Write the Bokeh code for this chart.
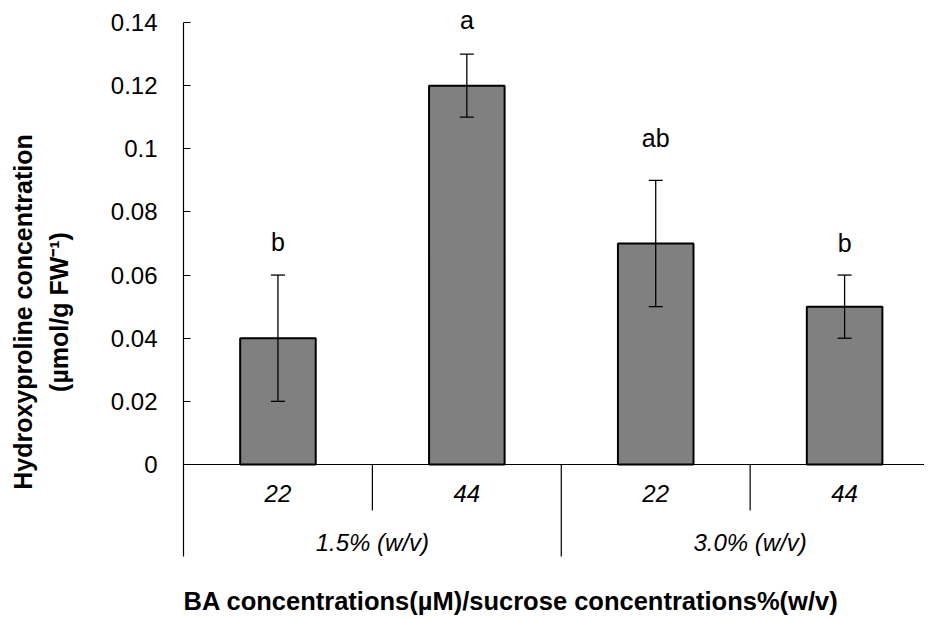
from bokeh.plotting import figure
from bokeh.models import (Range1d, LinearAxis, FixedTicker, NumeralTickFormatter,
                          ColumnDataSource, Whisker, TeeHead, LabelSet, Label, Span)
from bokeh.core.properties import value
from bokeh.embed import file_html
from bokeh.resources import INLINE

# ---- data ----
ba_levels = ["22", "44", "22", "44"]          # BA concentration (µM)
sucrose_groups = ["1.5% (w/v)", "3.0% (w/v)"]  # sucrose concentration
means = [0.04, 0.12, 0.07, 0.05]
errors = [0.02, 0.01, 0.02, 0.01]
letters = ["b", "a", "ab", "b"]
letter_heights = [0.0675, 0.138, 0.1005, 0.0672]
y_ticks = [0, 0.02, 0.04, 0.06, 0.08, 0.1, 0.12, 0.14]

FONT = "Liberation Sans"

n = len(means)
xpos = [i + 0.5 for i in range(n)]
group_x = [1.0, 3.0]
axis_bottom = -0.02914        # lower end of the category boxes
frame_bottom = -0.04783       # room for the x title
y_top = 0.14443
cat_label_y = -0.00919
group_label_y = -0.0247
small_sep_bottom = -0.01457
x_title_y = -0.0432

src = ColumnDataSource(dict(
    x=xpos, top=means,
    upper=[m + e for m, e in zip(means, errors)],
    lower=[m - e for m, e in zip(means, errors)],
    letter=letters, ly=letter_heights, cat=ba_levels,
    cy=[cat_label_y] * n,
))
gsrc = ColumnDataSource(dict(x=group_x, text=sucrose_groups, y=[group_label_y] * len(group_x)))

p = figure(width=924, height=615,
           x_range=Range1d(0, 3.923), y_range=Range1d(frame_bottom, y_top),
           x_axis_type=None, y_axis_type=None,
           output_backend="svg", toolbar_location=None,
           min_border_left=183, min_border_right=0,
           min_border_top=8, min_border_bottom=0)
p.outline_line_color = None
p.background_fill_color = "white"

# main y axis (line limited to the value range + category boxes)
yax = LinearAxis(ticker=FixedTicker(ticks=y_ticks),
                 formatter=NumeralTickFormatter(format="0.[00]"),
                 bounds=(axis_bottom, y_ticks[-1]),
                 axis_line_color="black", axis_line_width=1.2,
                 major_tick_in=7, major_tick_out=0, major_tick_line_width=1.2,
                 minor_tick_line_color=None,
                 major_label_standoff=26,
                 major_label_text_font=FONT, major_label_text_font_size="24px",
                 major_label_text_color="black",
                 axis_label="(µmol/g FW⁻¹)",
                 axis_label_text_font=FONT, axis_label_text_font_size="25px",
                 axis_label_text_font_style="bold", axis_label_text_color="black",
                 axis_label_standoff=35)
p.add_layout(yax, "left")

# outer line of the y title
yax2 = LinearAxis(ticker=FixedTicker(ticks=[]),
                  axis_line_color=None, major_tick_in=0, major_tick_out=0,
                  minor_tick_line_color=None,
                  axis_label="Hydroxyproline concentration",
                  axis_label_text_font=FONT, axis_label_text_font_size="25px",
                  axis_label_text_font_style="bold", axis_label_text_color="black",
                  axis_label_standoff=5)
p.add_layout(yax2, "left")

# bars
p.vbar(x="x", top="top", bottom=0, width=0.40, source=src,
       fill_color="#808080", line_color="black", line_width=2)

# error bars (drawn above the bars)
p.add_layout(Whisker(source=src, base="x", upper="upper", lower="lower",
                     line_color="black", line_width=1.3, level="overlay",
                     upper_head=TeeHead(size=14, line_width=1.3, line_color="black"),
                     lower_head=TeeHead(size=14, line_width=1.3, line_color="black")))

# category axis line and separators
p.add_layout(Span(location=0, dimension="width", line_color="black", line_width=1.2))
p.segment(x0=[1, 3], y0=[0, 0], x1=[1, 3], y1=[small_sep_bottom] * 2,
          line_color="black", line_width=1.2)
p.segment(x0=[2], y0=[0], x1=[2], y1=[axis_bottom],
          line_color="black", line_width=1.2)

# significance letters
p.add_layout(LabelSet(x="x", y="ly", text="letter", source=src,
                      text_align="center", text_baseline="alphabetic",
                      text_font=value(FONT), text_font_size="25px",
                      text_color="black"))

# category labels
p.add_layout(LabelSet(x="x", y="cy", text="cat", source=src,
                      text_align="center", text_baseline="middle",
                      text_font=value(FONT), text_font_size="24px",
                      text_font_style="italic", text_color="black"))
p.add_layout(LabelSet(x="x", y="y", text="text", source=gsrc,
                      text_align="center", text_baseline="middle",
                      text_font=value(FONT), text_font_size="24px",
                      text_font_style="italic", text_color="black"))

# x axis title
p.add_layout(Label(x=0, y=x_title_y,
                   text="BA concentrations(µM)/sucrose concentrations%(w/v)",
                   text_align="left", text_baseline="middle",
                   text_font=FONT, text_font_size="25.5px",
                   text_font_style="bold", text_color="black"))

open("out.html", "w").write(file_html(p, INLINE))
